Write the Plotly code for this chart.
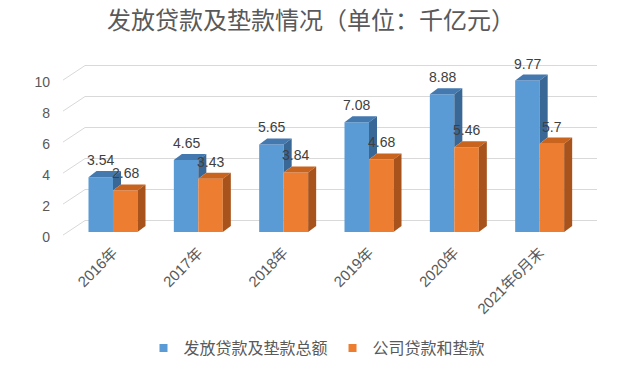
import plotly.graph_objects as go

# ---------------- data ----------------
categories = ["2016年", "2017年", "2018年", "2019年", "2020年", "2021年6月末"]
total_loans = [3.54, 4.65, 5.65, 7.08, 8.88, 9.77]
corporate_loans = [2.68, 3.43, 3.84, 4.68, 5.46, 5.7]
total_labels = ["3.54", "4.65", "5.65", "7.08", "8.88", "9.77"]
corporate_labels = ["2.68", "3.43", "3.84", "4.68", "5.46", "5.7"]
series_names = ["发放贷款及垫款总额", "公司贷款和垫款"]
y_ticks = [0, 2, 4, 6, 8, 10]
title_text = "发放贷款及垫款情况（单位：千亿元）"

# ---------------- layout constants ----------------
W, H = 640, 371
ML, MR, MT, MB = 85, 43, 60, 131
PW = W - ML - MR
PH = H - MT - MB
XR = [-0.328, 5.672]
YR = [-0.516, 11.097]
BACK = 0.74           # back-wall offset in value units
YR2 = [YR[0] - BACK, YR[1] - BACK]
BW = 0.287            # bar width (category units)
DX = 0.094            # 3D depth offset x
DY = 0.39             # 3D depth offset y

BLUE, BLUE_TOP, BLUE_SIDE = "#5b9bd5", "#4479b0", "#3a6896"
ORANGE, ORANGE_TOP, ORANGE_SIDE = "#ed7d31", "#c9641f", "#a8531b"
GRID = "#d9d9d9"
TXT = "#595959"
LATIN = "Liberation Sans, Noto Sans CJK SC, sans-serif"
CJK = "Noto Sans CJK SC, sans-serif"

xs = list(range(len(categories)))

fig = go.Figure()

# front faces
fig.add_trace(go.Bar(x=xs, y=total_loans, offset=-BW, width=BW,
                     marker=dict(color=BLUE, line=dict(width=0)),
                     showlegend=False, hoverinfo="skip"))
fig.add_trace(go.Bar(x=xs, y=corporate_loans, offset=0, width=BW,
                     marker=dict(color=ORANGE, line=dict(width=0)),
                     showlegend=False, hoverinfo="skip"))


def face(px, py, color):
    fig.add_trace(go.Scatter(x=px, y=py, mode="lines", fill="toself",
                             fillcolor=color, line=dict(width=0, color=color),
                             showlegend=False, hoverinfo="skip"))


# 3D faces of blue bars (side clipped where hidden behind orange bar)
for i, (vb, vo) in enumerate(zip(total_loans, corporate_loans)):
    xl, xr = i - BW, i
    face([xl, xr, xr + DX, xl + DX, xl], [vb, vb, vb + DY, vb + DY, vb], BLUE_TOP)
    lo = min(vo, vb)
    face([xr, xr, xr + DX, xr + DX, xr], [lo, vb, vb + DY, lo + DY, lo], BLUE_SIDE)

# 3D faces of orange bars
for i, vo in enumerate(corporate_loans):
    xl, xr = i, i + BW
    face([xl, xr, xr + DX, xl + DX, xl], [vo, vo, vo + DY, vo + DY, vo], ORANGE_TOP)
    face([xr, xr, xr + DX, xr + DX, xr], [0, vo, vo + DY, DY, 0], ORANGE_SIDE)

# dummy trace for back-wall gridlines axis
fig.add_trace(go.Scatter(x=[None], y=[None], yaxis="y2", showlegend=False, hoverinfo="skip"))

# legend entries
fig.add_trace(go.Scatter(x=[None], y=[None], mode="markers", name=series_names[0],
                         marker=dict(symbol="square", size=8, color=BLUE)))
fig.add_trace(go.Scatter(x=[None], y=[None], mode="markers", name=series_names[1],
                         marker=dict(symbol="square", size=8, color=ORANGE)))

# data labels
annotations = []
for i, (v, t) in enumerate(zip(total_loans, total_labels)):
    annotations.append(dict(x=i - BW / 2, y=v, text=t, showarrow=False, yshift=17,
                            font=dict(size=14, color="#404040", family=LATIN)))
for i, (v, t) in enumerate(zip(corporate_loans, corporate_labels)):
    annotations.append(dict(x=i + BW / 2, y=v, text=t, showarrow=False, yshift=17,
                            font=dict(size=14, color="#404040", family=LATIN)))

# slanted connectors from front axis to back wall
shapes = []
for t in y_ticks:
    y_front = (t - 0.2 - YR[0]) / (YR[1] - YR[0])
    y_back = (t + BACK - YR[0]) / (YR[1] - YR[0])
    shapes.append(dict(type="line", xref="paper", yref="paper",
                       x0=-22 / PW, y0=y_front, x1=0, y1=y_back,
                       line=dict(color=GRID, width=1)))

fig.update_layout(
    width=W, height=H,
    margin=dict(l=ML, r=MR, t=MT, b=MB, autoexpand=False),
    paper_bgcolor="white", plot_bgcolor="white",
    barmode="overlay",
    title=dict(text=title_text, x=311 / W, xref="container", xanchor="center",
               y=1 - 21 / H, yref="container", yanchor="middle",
               font=dict(size=24, color=TXT, family=CJK)),
    xaxis=dict(range=XR, tickvals=xs, ticktext=categories, tickangle=-45,
               showgrid=False, zeroline=False, showline=False, ticks="",
               automargin=False,
               tickfont=dict(size=15, color=TXT, family=LATIN)),
    yaxis=dict(range=YR, tickvals=y_ticks, showgrid=False, zeroline=False,
               showline=False, ticks="", ticklabelshift=5, ticklabelstandoff=34,
               automargin=False,
               tickfont=dict(size=14, color=TXT, family=LATIN)),
    yaxis2=dict(range=YR2, overlaying="y", tickvals=y_ticks, showgrid=True,
                gridcolor=GRID, gridwidth=1, zeroline=False, showline=False,
                showticklabels=False, ticks="", automargin=False),
    legend=dict(orientation="h", x=317 / W, xref="container", xanchor="center",
                y=1 - 348 / H, yref="container", yanchor="middle",
                font=dict(size=16, color=TXT, family=CJK), itemwidth=30),
    annotations=annotations,
    shapes=shapes,
    showlegend=True,
)

fig.write_html("out.html", config={"displayModeBar": False},
               post_script="document.body.style.margin='0';")
